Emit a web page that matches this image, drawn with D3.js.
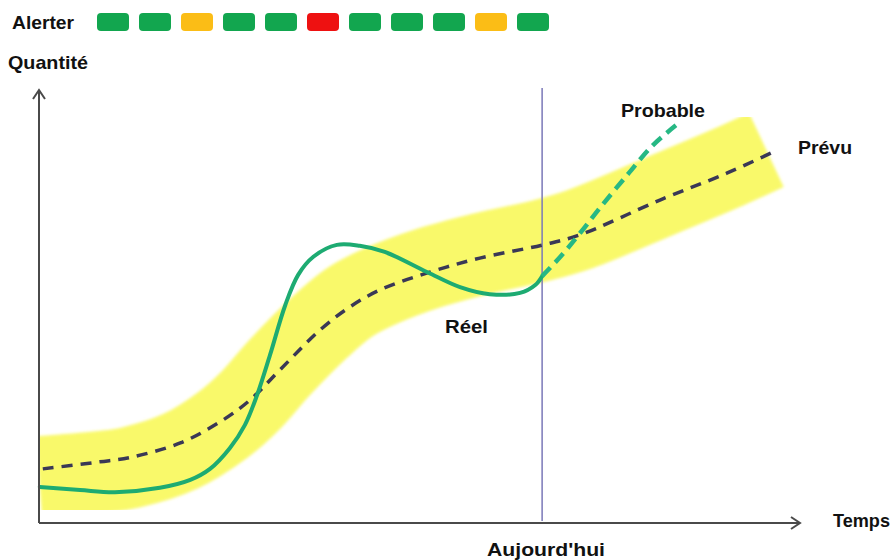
<!DOCTYPE html>
<html><head><meta charset="utf-8">
<script src="https://cdn.jsdelivr.net/npm/d3@7"></script>
<style>
html,body{margin:0;padding:0;background:#fff;}
svg{display:block;}
text{font-family:"Liberation Sans",Arial,sans-serif;font-weight:bold;fill:#111;}
</style></head>
<body>
<svg id="chart" width="894" height="560"></svg>
<script>
// ---- data (time 0-100, quantity 0-100) ----
const alertStatus = ["ok","ok","warn","ok","ok","alert","ok","ok","ok","warn","ok"];
const prevuT = [0.5, 8.0, 12.0, 18.6, 24.2, 27.8, 31.7, 37.0, 40.9, 44.9, 51.4, 58.0, 66.3, 71.2, 81.7, 90.5, 96.6];
const prevuQ = [12.3, 13.9, 14.9, 18.2, 23.4, 28.0, 34.8, 43.9, 49.1, 53.0, 57.0, 60.2, 63.2, 65.5, 73.4, 79.5, 84.3];
const bandT  = [0, 8.0, 12.0, 18.6, 24.2, 27.8, 31.7, 37.0, 40.9, 44.9, 51.4, 58.0, 66.3, 71.2, 81.7, 90.5, 95.7];
const bandQ  = [10.4, 11.6, 12.6, 16.3, 22.3, 27.8, 35.4, 44.6, 50.2, 53.8, 58.0, 61.1, 64.3, 66.8, 74.3, 80.7, 84.8];
const reelT = [0.1, 5.4, 10.0, 15.9, 19.9, 22.5, 25.1, 27.1, 28.7, 30.4, 32.4, 34.1, 36.1, 39.2, 42.2, 45.5, 51.1, 55.4, 59.3, 63.3, 65.3, 66.2];
const reelQ = [8.2, 7.5, 7.0, 8.0, 9.8, 12.3, 17.0, 22.3, 29.1, 38.2, 49.5, 56.4, 60.5, 63.2, 63.0, 61.6, 57.0, 53.6, 52.0, 52.3, 54.1, 56.1];
const probT = [66.2, 68.6, 71.2, 73.8, 77.4, 80.8, 83.9];
const probQ = [56.1, 60.5, 65.9, 71.6, 79.1, 85.9, 90.5];
const todayT = 66.2;
const labels = {alert:"Alerter", y:"Quantité", x:"Temps", today:"Aujourd'hui", prevu:"Prévu", prob:"Probable", reel:"Réel"};

const zip = (a,b) => a.map((v,i)=>[v,b[i]]);

const svg = d3.select("#chart");
const x = d3.scaleLinear().domain([0,100]).range([39,799]);
const y = d3.scaleLinear().domain([0,100]).range([523,83]);
const line = d3.line().x(d=>x(d[0])).y(d=>y(d[1])).curve(d3.curveCatmullRom.alpha(0.5));

const defs = svg.append("defs");
defs.append("filter").attr("id","soft").attr("x","-10%").attr("y","-10%").attr("width","120%").attr("height","120%")
  .append("feGaussianBlur").attr("stdDeviation",1.6);
defs.append("clipPath").attr("id","plotclip").append("rect")
  .attr("x",x(0)+1).attr("y",0).attr("width",800).attr("height",521);

// alert boxes
const statusColor = {ok:"#12a64f", warn:"#fbbd16", alert:"#ee1111"};
const bx = d3.scaleBand().domain(d3.range(alertStatus.length)).range([97,549]).paddingInner(10/42).paddingOuter(0);
svg.append("g").selectAll("rect").data(alertStatus).join("rect")
  .attr("x",(d,i)=>bx(i)).attr("y",13).attr("width",bx.bandwidth()).attr("height",18)
  .attr("rx",4).attr("fill",d=>statusColor[d]);

function label(txt, xx, yy, len){
  svg.append("text").attr("x",xx).attr("y",yy).attr("font-size",19)
    .attr("textLength",len).attr("lengthAdjust","spacingAndGlyphs").text(txt);
}
label(labels.alert, 12, 29, 62);
label(labels.y, 8, 69, 80);

// band
svg.append("path").datum(zip(bandT,bandQ)).attr("d",line)
  .attr("fill","none").attr("stroke","#f9f96a").attr("stroke-width",82).attr("stroke-linecap","butt")
  .attr("clip-path","url(#plotclip)").attr("filter","url(#soft)");

// today line
svg.append("line").attr("x1",x(todayT)).attr("x2",x(todayT)).attr("y1",88).attr("y2",521)
  .attr("stroke","#7a78b8").attr("stroke-width",1.5);

// prevu
svg.append("path").datum(zip(prevuT,prevuQ)).attr("d",line)
  .attr("fill","none").attr("stroke","#3a3856").attr("stroke-width",3.5)
  .attr("stroke-dasharray","11,8");

// reel
svg.append("path").datum(zip(reelT,reelQ)).attr("d",line)
  .attr("fill","none").attr("stroke","#1dab72").attr("stroke-width",4).attr("stroke-linecap","round");

// probable
svg.append("path").datum(zip(probT,probQ)).attr("d",line)
  .attr("fill","none").attr("stroke","#26b884").attr("stroke-width",4.5)
  .attr("stroke-dasharray","12,7");

// axes
const ax = svg.append("g").attr("stroke","#4a4a4a").attr("stroke-width",2).attr("fill","none");
ax.append("line").attr("x1",x(0)).attr("y1",y(0)).attr("x2",x(0)).attr("y2",90);
ax.append("line").attr("x1",x(0)).attr("y1",y(0)).attr("x2",800).attr("y2",y(0));
ax.append("path").attr("d",`M${x(0)-6},${99} L${x(0)},${90} L${x(0)+6},${99}`);
ax.append("path").attr("d",`M${791},${y(0)-6} L${800},${y(0)} L${791},${y(0)+6}`);

// labels
label(labels.x, 833, 527, 57);
label(labels.today, 487, 556, 118);
label(labels.prob, 621, 117, 84);
label(labels.prevu, 798, 154, 54);
label(labels.reel, 445, 333, 43);
</script>
</body></html>
